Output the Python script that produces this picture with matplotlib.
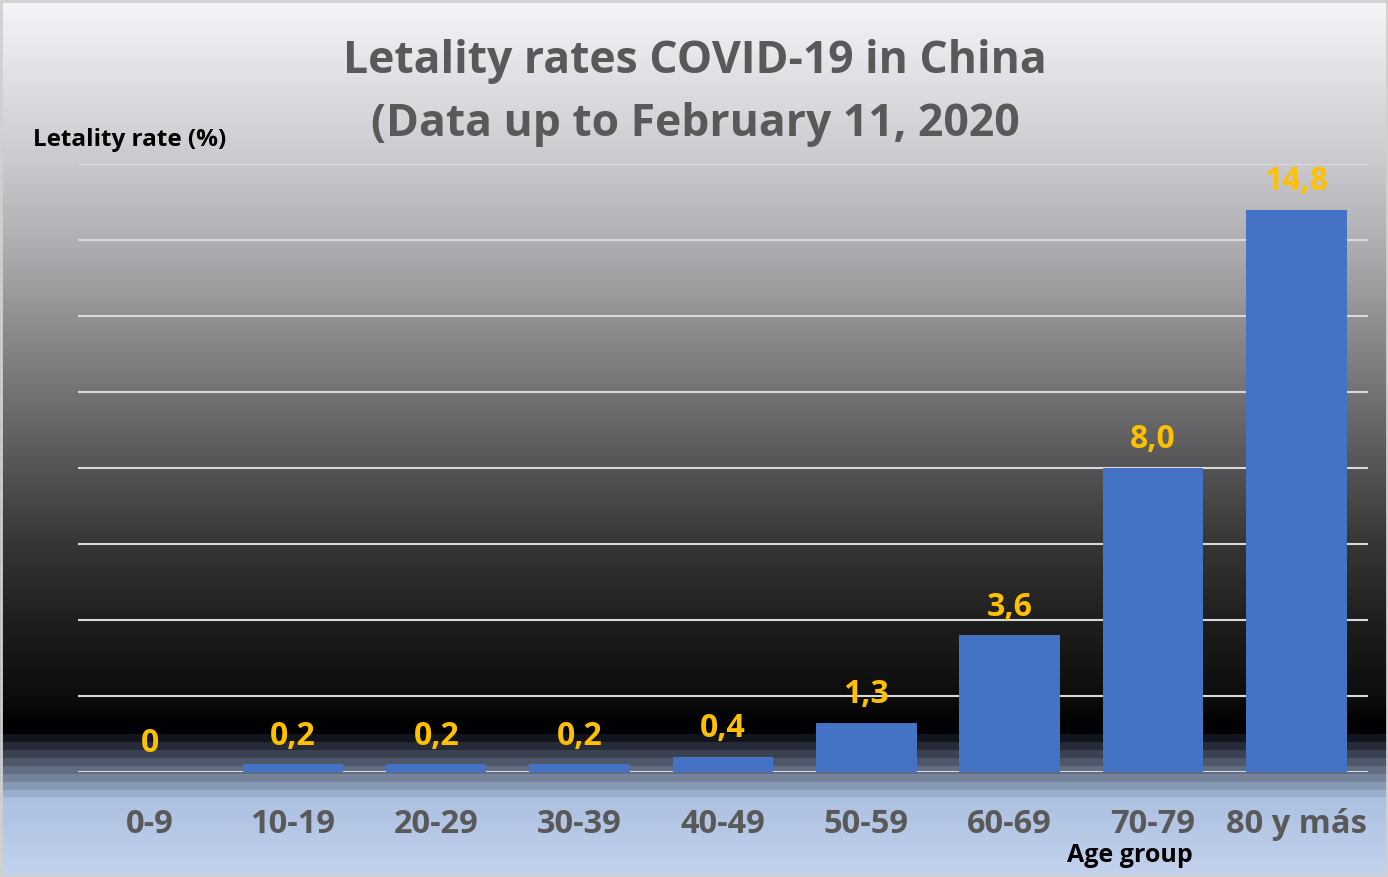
import numpy as np
import matplotlib.pyplot as plt
from matplotlib.patches import Rectangle

age_groups = ['0-9', '10-19', '20-29', '30-39', '40-49', '50-59', '60-69', '70-79', '80 y más']
letality = [0, 0.2, 0.2, 0.2, 0.4, 1.3, 3.6, 8.0, 14.8]
value_labels = ['0', '0,2', '0,2', '0,2', '0,4', '1,3', '3,6', '8,0', '14,8']

plt.rcParams['font.family'] = ['Open Sans', 'DejaVu Sans']

W, H = 1388, 878
fig = plt.figure(figsize=(W / 100, H / 100), dpi=100)

# background gradient (grey to black, then blue band at the bottom)
rows = np.arange(H)
stops_y = [0, 165, 241, 317, 393, 469, 545, 621, 697, 727]
stops_g = [0.96, 0.79, 0.69, 0.57, 0.45, 0.33, 0.21, 0.12, 0.05, 0.0]
grey = np.interp(rows, stops_y, stops_g)
bg = np.stack([grey, grey, grey * 1.02], axis=1)
bot_y = [727, 797, 878]
bot_c = np.array([[0.0, 0.0, 0.02], [0.67, 0.75, 0.88], [0.77, 0.83, 0.93]])
mask = rows >= 727
steps = np.floor((rows - 727) / 8) * 8 + 727
for k in range(3):
    stepped = np.interp(np.minimum(steps, 797), bot_y, bot_c[:, k])
    fine = np.interp(rows, bot_y, bot_c[:, k])
    vals = np.where(rows > 797, fine, stepped)
    bg[mask, k] = vals[mask]
bg = np.clip(bg, 0, 1)
img = np.repeat(bg[:, None, :], 2, axis=1)

bax = fig.add_axes([0, 0, 1, 1], zorder=0)
bax.imshow(img, aspect='auto', extent=[0, 1, 0, 1], origin='upper')
bax.add_patch(Rectangle((0.001, 0.001), 0.998, 0.997, fill=False,
                        edgecolor='#D0D0D0', linewidth=2, transform=bax.transAxes))
bax.axis('off')

ax = fig.add_axes([78 / W, 1 - 773 / H, (1368 - 78) / W, (773 - 165) / H], zorder=1)
ax.patch.set_alpha(0)
x = np.arange(len(age_groups))
ax.bar(x, letality, width=0.7, color='#4472C4', zorder=3)
ax.set_xlim(-0.5, len(age_groups) - 0.5)
ax.set_ylim(0, 16)
ax.set_yticks(np.arange(0, 17, 2))
ax.yaxis.grid(True, color='#D9D9D9', linewidth=1.5, zorder=0)
ax.set_axisbelow(True)
ax.tick_params(axis='y', left=False, labelleft=False)
ax.tick_params(axis='x', bottom=False, pad=22)
ax.set_xticks(x)
ax.set_xticklabels(age_groups, fontsize=23.5, fontweight='bold', color='#595959')
for s in ax.spines.values():
    s.set_visible(False)

for xi, v, lab in zip(x, letality, value_labels):
    ax.annotate(lab, (xi, v), xytext=(0, 9), textcoords='offset points',
                ha='center', va='bottom', fontsize=23, fontweight='bold',
                color='#FFC000', zorder=4)

fig.text(695 / W, 1 - 93 / H, 'Letality rates COVID-19 in China\n(Data up to February 11, 2020',
         ha='center', va='center', fontsize=32, fontweight='bold', color='#595959',
         linespacing=1.55)
fig.text(33 / W, 1 - 140 / H, 'Letality rate (%)', ha='left', va='center',
         fontsize=17.5, fontweight='bold', color='black')
fig.text(1130 / W, 1 - 856 / H, 'Age group', ha='center', va='center',
         fontsize=18, fontweight='bold', color='black')

fig.savefig('out.png', dpi=100)
